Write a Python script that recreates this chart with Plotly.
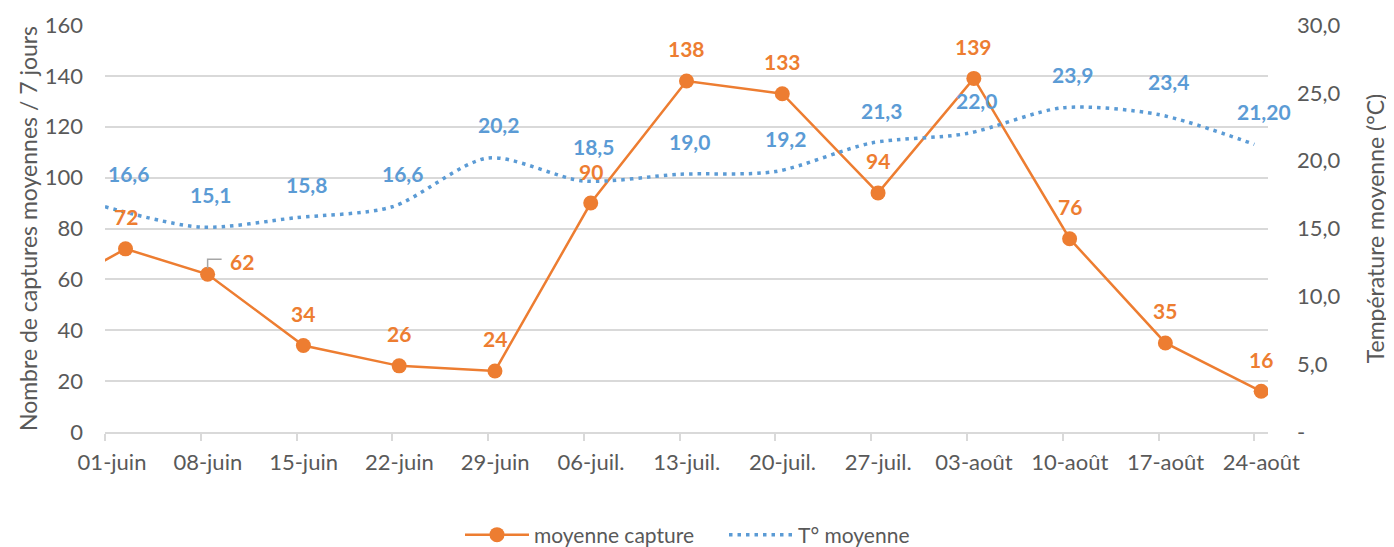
import plotly.graph_objects as go

# ---------------- data ----------------
tick_dates = ["2023-06-01", "2023-06-08", "2023-06-15", "2023-06-22", "2023-06-29",
              "2023-07-06", "2023-07-13", "2023-07-20", "2023-07-27", "2023-08-03",
              "2023-08-10", "2023-08-17", "2023-08-24"]
tick_labels = ["01-juin", "08-juin", "15-juin", "22-juin", "29-juin", "06-juil.", "13-juil.",
               "20-juil.", "27-juil.", "03-août", "10-août", "17-août", "24-août"]

# captures (orange) – first point lies before the visible range
capture_dates = ["2023-05-25 12:00", "2023-06-02 12:00", "2023-06-08 12:00", "2023-06-15 12:00",
                 "2023-06-22 12:00", "2023-06-29 12:00", "2023-07-06 12:00", "2023-07-13 12:00",
                 "2023-07-20 12:00", "2023-07-27 12:00", "2023-08-03 12:00", "2023-08-10 12:00",
                 "2023-08-17 12:00", "2023-08-24 12:00"]
capture_values = [48, 72, 62, 34, 26, 24, 90, 138, 133, 94, 139, 76, 35, 16]

# temperature (blue)
temp_dates = tick_dates
temp_values = [16.6, 15.1, 15.8, 16.6, 20.2, 18.5, 19.0, 19.2, 21.3, 22.0, 23.9, 23.4, 21.20]
temp_labels = ["16,6", "15,1", "15,8", "16,6", "20,2", "18,5", "19,0", "19,2", "21,3",
               "22,0", "23,9", "23,4", "21,20"]

y2_ticks = [0, 5, 10, 15, 20, 25, 30]
y2_ticktext = ["-", "5,0", "10,0", "15,0", "20,0", "25,0", "30,0"]

ORANGE = "#ED7D31"
BLUE = "#5B9BD5"
GREY = "#595959"
GRID = "#D9D9D9"
FONT = "Lato"

# the page body has an 8px default margin: the figure is sized to fit the window
W, H = 1386, 539

fig = go.Figure()
fig.add_trace(go.Scatter(
    x=capture_dates, y=capture_values, name="moyenne capture", mode="lines+markers",
    line=dict(color=ORANGE, width=2.5),
    marker=dict(color=ORANGE, size=15, line=dict(width=0)),
    yaxis="y"))
fig.add_trace(go.Scatter(
    x=temp_dates, y=temp_values, name="T° moyenne", mode="lines",
    line=dict(color=BLUE, width=3.5, dash="3.5px,5px", shape="spline", smoothing=0.8),
    yaxis="y2"))

annotations = []
# orange labels (skip the off-range point)
for i, (d, v) in enumerate(zip(capture_dates, capture_values)):
    if i == 0:
        continue
    xs, ys = 0, 32
    if v == 62 and i == 2:
        xs, ys = 34, 13
    annotations.append(dict(x=d, y=v, xref="x", yref="y", text=str(v), showarrow=False,
                            xshift=xs, yshift=ys,
                            font=dict(family=FONT, size=21, color=ORANGE, weight="bold")))
for i, (d, v, t) in enumerate(zip(temp_dates, temp_values, temp_labels)):
    xs = 23 if i == 0 else 10
    ys = 35 if t == "18,5" else 33
    annotations.append(dict(x=d, y=v, xref="x", yref="y2", text=t, showarrow=False,
                            xshift=xs, yshift=ys,
                            font=dict(family=FONT, size=21, color=BLUE, weight="bold")))

# leader line for the "62" label
shapes = [dict(type="path", xref="x", yref="y", xsizemode="pixel", ysizemode="pixel",
               xanchor=capture_dates[2], yanchor=capture_values[2],
               path="M0,6 L0,15 L14,15", line=dict(color="#A6A6A6", width=1.5))]

fig.update_layout(
    width=W, height=H,
    margin=dict(l=97, r=126, t=17, b=115, autoexpand=False),
    paper_bgcolor="white", plot_bgcolor="white",
    font=dict(family=FONT, size=22, color=GREY),
    showlegend=True,
    legend=dict(orientation="h", xref="paper", x=(460 - 105) / 1163, xanchor="left",
                yref="container", y=(H - 527) / H, yanchor="middle",
                font=dict(size=21, color=GREY), itemwidth=64, tracegroupgap=0,
                entrywidth=185, entrywidthmode="pixels"),
    annotations=annotations,
    shapes=shapes,
    xaxis=dict(type="date", range=["2023-06-01", "2023-08-25"],
               tickvals=tick_dates, ticktext=tick_labels, automargin=False,
               showgrid=False, zeroline=False,
               showline=True, linecolor=GRID, linewidth=1.5,
               ticks="outside", ticklen=7, tickcolor=GRID, tickwidth=1.5,
               tickfont=dict(size=22, color=GREY), ticklabelstandoff=3, ticklabelshift=7),
    yaxis=dict(range=[0, 160], dtick=20, showgrid=True, gridcolor=GRID, gridwidth=1.5,
               zeroline=False, showline=False, ticks="", automargin=False,
               tickfont=dict(size=22, color=GREY), ticklabelstandoff=21,
               title=dict(text="Nombre de captures moyennes / 7 jours",
                          font=dict(size=23, color=GREY), standoff=0)),
    yaxis2=dict(range=[0, 30], overlaying="y", side="right", automargin=False,
                tickvals=y2_ticks, ticktext=y2_ticktext,
                showgrid=False, zeroline=False, showline=False, ticks="",
                tickfont=dict(size=22, color=GREY), ticklabelstandoff=28,
                title=dict(text="Température moyenne (°C)",
                           font=dict(size=23, color=GREY), standoff=28)),
)

fig.write_html("out.html")
